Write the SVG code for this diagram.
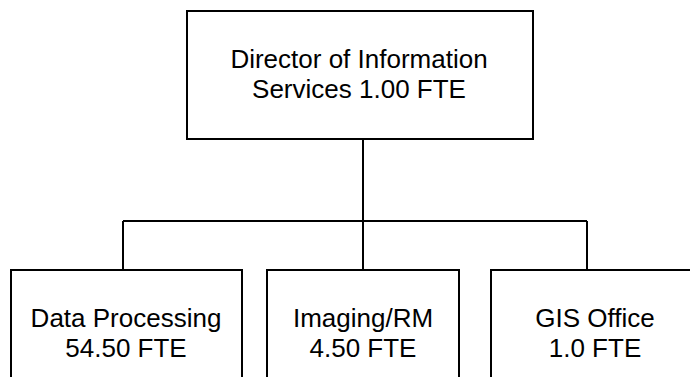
<svg xmlns="http://www.w3.org/2000/svg" width="690" height="377" viewBox="0 0 690 377">
  <style>
    .box { fill: #ffffff; stroke: #000000; stroke-width: 2; }
    .conn { fill: none; stroke: #000000; stroke-width: 2; }
    .lbl { font-family: "Liberation Sans", Arial, sans-serif; font-size: 26px; fill: #000000; text-anchor: middle; }
  </style>
  <rect width="690" height="377" fill="#ffffff"/>

  <g id="connectors">
    <path class="conn" d="M363 139 V221"/>
    <path class="conn" d="M123 221 H587"/>
    <path class="conn" d="M123 221 V270"/>
    <path class="conn" d="M363 221 V270"/>
    <path class="conn" d="M587 221 V270"/>
  </g>

  <g id="director">
    <rect class="box" x="187" y="11" width="346" height="128"/>
    <text class="lbl" x="359" y="68">Director of Information</text>
    <text class="lbl" x="359" y="98">Services 1.00 FTE</text>
  </g>

  <g id="data-processing">
    <rect class="box" x="11" y="270" width="231" height="120"/>
    <text class="lbl" x="126" y="326.5">Data Processing</text>
    <text class="lbl" x="126" y="356.5">54.50 FTE</text>
  </g>

  <g id="imaging-rm">
    <rect class="box" x="267" y="270" width="192" height="120"/>
    <text class="lbl" x="363" y="326.5">Imaging/RM</text>
    <text class="lbl" x="363" y="356.5">4.50 FTE</text>
  </g>

  <g id="gis-office">
    <rect class="box" x="491" y="270" width="220" height="120"/>
    <text class="lbl" x="595" y="326.5">GIS Office</text>
    <text class="lbl" x="595" y="356.5">1.0 FTE</text>
  </g>
</svg>
